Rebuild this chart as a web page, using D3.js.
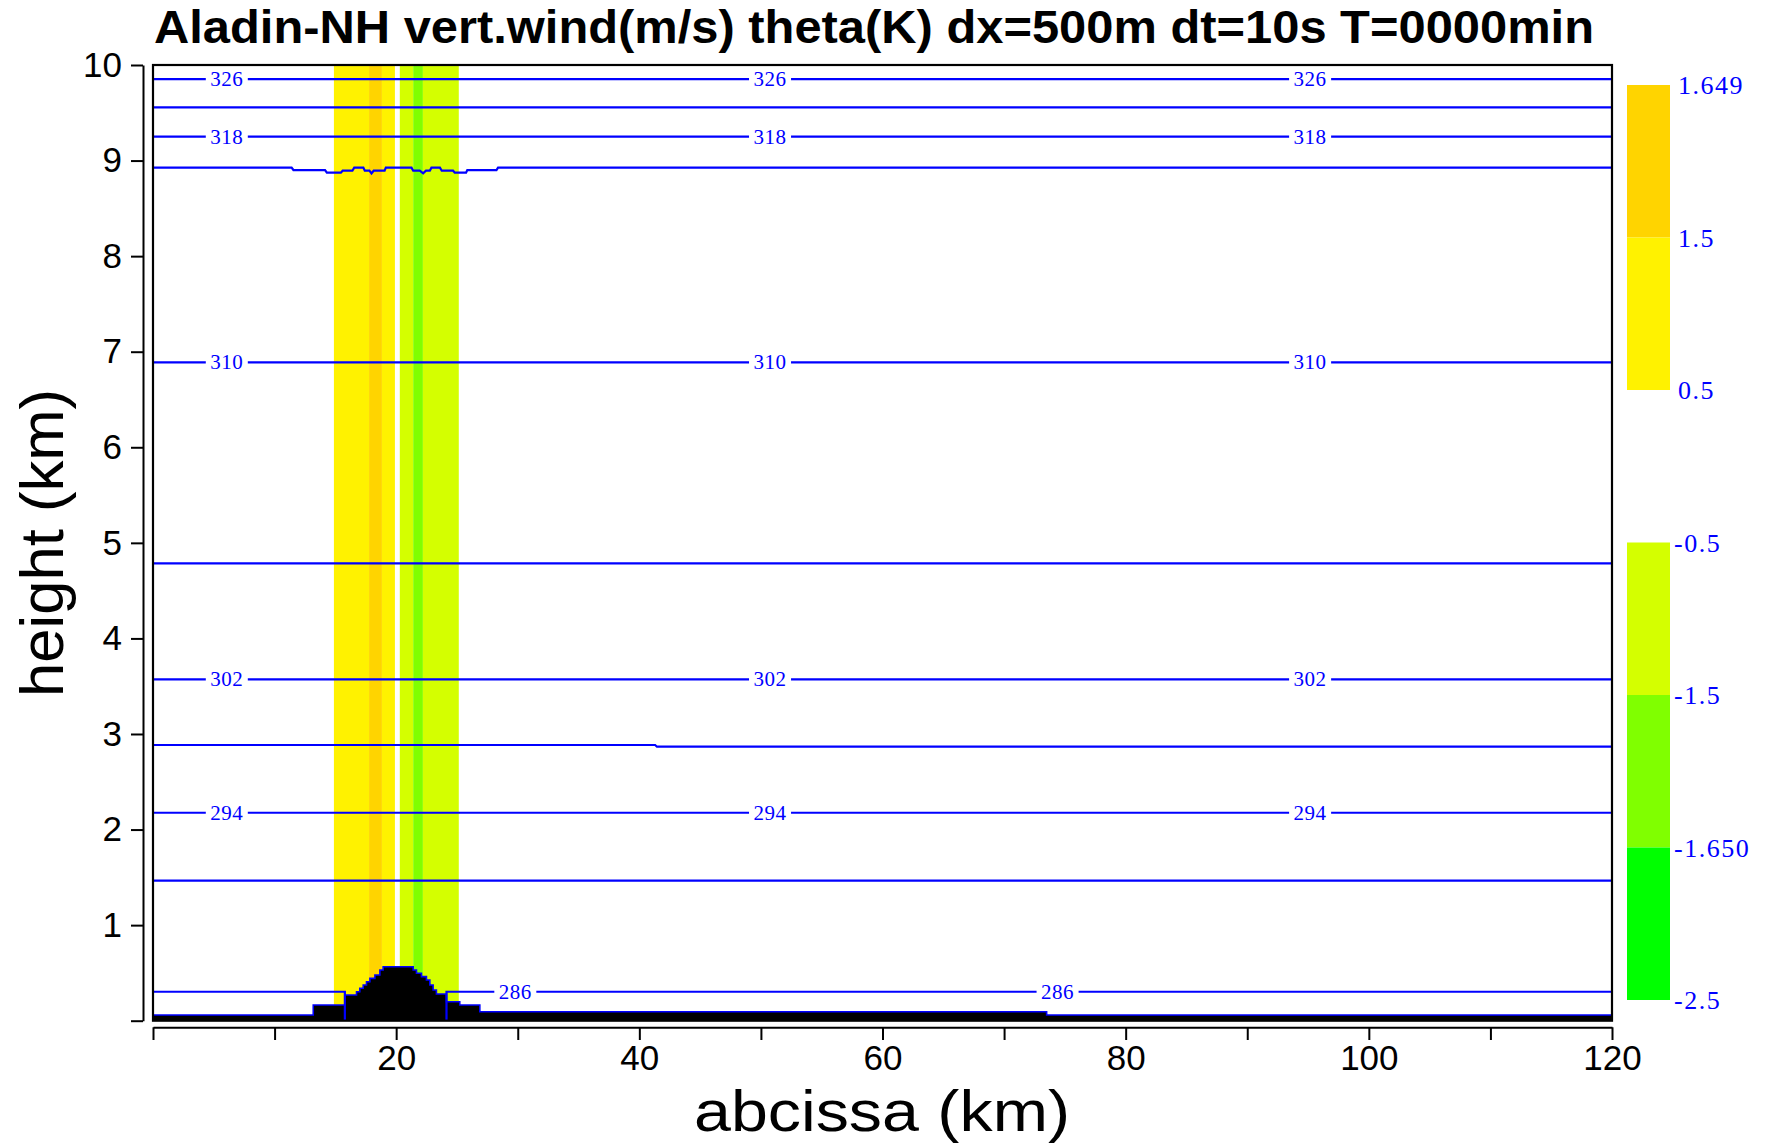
<!DOCTYPE html>
<html>
<head>
<meta charset="utf-8">
<script src="https://cdn.jsdelivr.net/npm/d3@7"></script>
<style>
  html, body { margin: 0; padding: 0; background: #ffffff; }
  svg { display: block; }
</style>
</head>
<body>
<svg id="chart" width="1769" height="1146"></svg>
<script>
// ---------- axes ----------
const xTicks = [0, 10, 20, 30, 40, 50, 60, 70, 80, 90, 100, 110, 120];
const xTickLabels = [20, 40, 60, 80, 100, 120];
const yTicks = [0, 1, 2, 3, 4, 5, 6, 7, 8, 9, 10];
const yTickLabels = [1, 2, 3, 4, 5, 6, 7, 8, 9, 10];

// ---------- vertical wind (m/s), column bands in km ----------
const wBandEdges = [14.88, 17.77, 18.83, 19.9, 20.3, 21.4, 22.2, 25.15];
const wBandValues = [1.0, 1.6, 1.0, 0.0, -1.0, -1.6, -1.0];

// shading classes
const wClassBreaks = [-1.65, -1.5, -0.5, 0.5, 1.5];
const wClassColors = ["#00ff00", "#80ff00", "#d4ff00", "none", "#fff200", "#ffd400"];

// colour bar
const legendLabels = ["1.649", "1.5", "0.5", "-0.5", "-1.5", "-1.650", "-2.5"];
const legendColors = ["#ffd400", "#fff200", "none", "#d4ff00", "#80ff00", "#00ff00"];

// ---------- orography (km), step profile ----------
const terrainX = [0, 13.18, 15.78, 16.74, 17.01, 17.29, 17.56, 17.84, 18.25, 18.66, 18.93,
                  21.4, 21.67, 22.08, 22.49, 22.77, 23.04, 23.31, 24.14, 25.23, 26.88, 73.5, 120];
const terrainH = [0.06, 0.164, 0.269, 0.303, 0.339, 0.374, 0.408, 0.443, 0.478, 0.53, 0.565,
                  0.53, 0.496, 0.461, 0.426, 0.374, 0.321, 0.279, 0.199, 0.164, 0.094, 0.06, 0.06];

// ---------- potential temperature (K) isolines ----------
const thetaFlatLevels  = [290, 294, 302, 306, 310, 318, 322, 326];
const thetaFlatHeights = [1.465, 2.176, 3.572, 4.786, 6.889, 9.25, 9.556, 9.853];

const theta286Left  = [[0, 0.303], [15.78, 0.303], [15.78, 0]];
const theta286Right = [[24.14, 0], [24.14, 0.303], [120, 0.303]];
const theta298 = [[0, 2.885], [41.3, 2.885], [41.45, 2.867], [120, 2.867]];
const theta314 = [
  [0, 8.926], [11.4, 8.926], [11.55, 8.901], [14.15, 8.901], [14.3, 8.873], [15.45, 8.873],
  [15.6, 8.894], [16.4, 8.894], [16.55, 8.926], [17.3, 8.926], [17.42, 8.894], [17.8, 8.894],
  [17.97, 8.866], [18.15, 8.894], [19.05, 8.894], [19.15, 8.926], [21.26, 8.926], [21.4, 8.894],
  [21.94, 8.894], [22.22, 8.866], [22.45, 8.894], [22.77, 8.894], [22.9, 8.926], [23.6, 8.926],
  [23.75, 8.894], [24.68, 8.894], [24.82, 8.873], [25.75, 8.873], [25.85, 8.901], [28.25, 8.901],
  [28.38, 8.926], [120, 8.926]
];

// isoline labels
const labelledLevels  = [326, 318, 310, 302, 294];
const labelledHeights = [9.853, 9.25, 6.889, 3.572, 2.176];
const labelX = [6.07, 50.75, 95.17];
const label286X = [29.8, 74.4];
const label286Height = 0.303;

// ---------- layout ----------
const svg = d3.select("#chart");
const plot = { left: 153, right: 1612, top: 65, bottom: 1020.7 };

const x = d3.scaleLinear().domain([0, 120]).range([plot.left, plot.right]);
const y = d3.scaleLinear().domain([0, 10]).range([plot.bottom, plot.top]);
const wColor = d3.scaleThreshold().domain(wClassBreaks).range(wClassColors);

const BLUE = "#0000ff";

// title
svg.append("text")
  .attr("x", 874).attr("y", 43)
  .attr("text-anchor", "middle")
  .attr("textLength", 1440).attr("lengthAdjust", "spacingAndGlyphs")
  .style("font-family", "'Liberation Sans', Arial, sans-serif")
  .style("font-weight", "bold").style("font-size", "47px")
  .text("Aladin-NH vert.wind(m/s) theta(K) dx=500m dt=10s T=0000min");

// vertical-wind shading
const bands = wBandValues.map((v, i) => ({ x0: wBandEdges[i], x1: wBandEdges[i + 1], v }));
svg.append("g").selectAll("rect").data(bands).join("rect")
  .attr("x", d => x(d.x0))
  .attr("width", d => x(d.x1) - x(d.x0))
  .attr("y", y(10))
  .attr("height", y(0) - y(10))
  .attr("fill", d => wColor(d.v) === "none" ? "#ffffff" : wColor(d.v));

// orography
const terr = terrainX.map((xv, i) => [xv, terrainH[Math.min(i, terrainH.length - 1)]]);
svg.append("path").datum(terr)
  .attr("d", d3.area().x(d => x(d[0])).y0(y(0)).y1(d => y(d[1])).curve(d3.curveStepAfter))
  .attr("fill", "#000000");
svg.append("path").datum(terr)
  .attr("d", d3.line().x(d => x(d[0])).y(d => y(d[1])).curve(d3.curveStepAfter))
  .attr("fill", "none").attr("stroke", BLUE).attr("stroke-width", 1.6);

// isolines
const line = d3.line().x(d => x(d[0])).y(d => y(d[1]));
const iso = svg.append("g").attr("fill", "none").attr("stroke", BLUE).attr("stroke-width", 2.2);
thetaFlatHeights.forEach(h => {
  iso.append("path").attr("d", line([[0, h], [120, h]]));
});
[theta286Left, theta286Right, theta298, theta314].forEach(p => {
  iso.append("path").attr("d", line(p));
});

// isoline labels
const labels = [];
labelledLevels.forEach((lv, i) => labelX.forEach(lx => labels.push({ lv, x: lx, h: labelledHeights[i] })));
label286X.forEach(lx => labels.push({ lv: 286, x: lx, h: label286Height }));

const lab = svg.append("g");
lab.selectAll("rect").data(labels).join("rect")
  .attr("x", d => x(d.x) - 21).attr("y", d => y(d.h) - 9)
  .attr("width", 42).attr("height", 18)
  .attr("fill", "#ffffff");
lab.selectAll("text").data(labels).join("text")
  .attr("x", d => x(d.x)).attr("y", d => y(d.h) + 7)
  .attr("text-anchor", "middle")
  .style("font-family", "'Liberation Serif', 'Times New Roman', serif")
  .style("font-size", "21px").style("letter-spacing", "0.5px")
  .attr("fill", BLUE)
  .text(d => d.lv);

// plot frame
svg.append("rect")
  .attr("x", plot.left).attr("y", plot.top)
  .attr("width", plot.right - plot.left).attr("height", plot.bottom - plot.top)
  .attr("fill", "none").attr("stroke", "#000").attr("stroke-width", 2.2);

// y axis (offset to the left of the frame)
const yAxis = d3.axisLeft(y)
  .tickValues(yTicks)
  .tickSize(12).tickSizeOuter(0).tickPadding(9)
  .tickFormat(d => yTickLabels.includes(d) ? d : "");
const gy = svg.append("g").attr("transform", "translate(143,0)").call(yAxis);

// x axis (offset below the frame)
const xAxis = d3.axisBottom(x)
  .tickValues(xTicks)
  .tickSize(12.7).tickSizeOuter(0).tickPadding(5.6)
  .tickFormat(d => xTickLabels.includes(d) ? d : "");
const gx = svg.append("g").attr("transform", "translate(0,1027.3)").call(xAxis);

[gx, gy].forEach(g => {
  g.selectAll("path.domain").attr("stroke", "#000").attr("stroke-width", 2);
  g.selectAll(".tick line").attr("stroke", "#000").attr("stroke-width", 2);
  g.selectAll(".tick text")
    .attr("fill", "#000")
    .style("font-family", "'Liberation Sans', Arial, sans-serif")
    .style("font-size", "35px");
});

// axis titles
svg.append("text")
  .attr("x", 882).attr("y", 1131)
  .attr("text-anchor", "middle")
  .attr("textLength", 376).attr("lengthAdjust", "spacingAndGlyphs")
  .style("font-family", "'Liberation Sans', Arial, sans-serif")
  .style("font-size", "58px")
  .text("abcissa (km)");

svg.append("text")
  .attr("transform", "translate(63,543) rotate(-90)")
  .attr("text-anchor", "middle")
  .attr("textLength", 308).attr("lengthAdjust", "spacingAndGlyphs")
  .style("font-family", "'Liberation Sans', Arial, sans-serif")
  .style("font-size", "62px")
  .text("height (km)");

// colour bar
const ly = d3.scaleLinear().domain([0, legendLabels.length - 1]).range([85, 1000]);
const cb = svg.append("g");
cb.selectAll("rect").data(legendColors).join("rect")
  .attr("x", 1627).attr("width", 43)
  .attr("y", (d, i) => ly(i)).attr("height", (d, i) => ly(i + 1) - ly(i))
  .attr("fill", d => d === "none" ? "none" : d);
cb.selectAll("text").data(legendLabels).join("text")
  .attr("x", d => d.startsWith("-") ? 1674 : 1678)
  .attr("y", (d, i) => ly(i) + 9)
  .style("font-family", "'Liberation Serif', 'Times New Roman', serif")
  .style("font-size", "26px").style("letter-spacing", "1.5px")
  .attr("fill", BLUE)
  .text(d => d);
</script>
</body>
</html>
